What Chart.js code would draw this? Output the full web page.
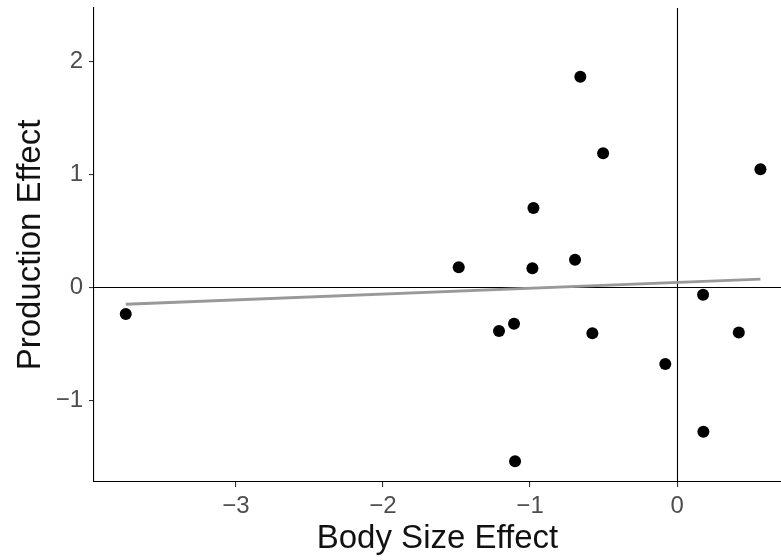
<!DOCTYPE html>
<html>
<head>
<meta charset="utf-8">
<script src="https://cdn.jsdelivr.net/npm/chart.js@4/dist/chart.umd.min.js"></script>
<style>
  html, body { margin: 0; padding: 0; background: #fff; }
  #wrap { width: 781px; height: 560px; }
</style>
</head>
<body>
<div id="wrap"><canvas id="chart" width="781" height="560"></canvas></div>
<script>
// points
const bodySize = [-3.75, -1.485, -1.211, -1.109, -1.102, -0.984, -0.977, -0.694, -0.658, -0.576, -0.503, -0.08, 0.177, 0.179, 0.42, 0.567];
const production = [-0.236, 0.177, -0.387, -0.322, -1.54, 0.168, 0.702, 0.244, 1.864, -0.407, 1.186, -0.679, -0.065, -1.278, -0.40, 1.044];

// fitted line endpoints
const fitX = [-3.75, 0.567];
const fitY = [-0.15, 0.073];

const xTicks = [-3, -2, -1, 0];
const yTicks = [-1, 0, 1, 2];

const FONT = "'Liberation Sans', Arial, Helvetica, sans-serif";
const TICK_COLOR = '#4d4d4d';

const fmt = v => v < 0 ? '\u2212' + Math.abs(v) : String(v);

// zero reference lines, drawn under the data
const zeroLines = {
    id: 'zeroLines',
    beforeDatasetsDraw(chart) {
        const { ctx, chartArea: a, scales: { x, y } } = chart;
        const px = Math.round(x.getPixelForValue(0)) + 0.5;
        const py = Math.round(y.getPixelForValue(0)) + 0.5;
        ctx.save();
        ctx.strokeStyle = '#000';
        ctx.lineWidth = 1.1;
        ctx.beginPath();
        ctx.moveTo(px, a.top);
        ctx.lineTo(px, a.bottom);
        ctx.moveTo(a.left, py);
        ctx.lineTo(a.right, py);
        ctx.stroke();
        ctx.restore();
    }
};

new Chart(document.getElementById('chart'), {
    type: 'scatter',
    data: {
        datasets: [{
            type: 'line',
            data: fitX.map((x, i) => ({ x, y: fitY[i] })),
            borderColor: '#999999',
            borderWidth: 2.8,
            pointRadius: 0,
            fill: false,
            tension: 0,
            order: 2,
        }, {
            data: bodySize.map((x, i) => ({ x, y: production[i] })),
            backgroundColor: '#000',
            borderWidth: 0,
            pointRadius: 6,
            order: 1,
        }]
    },
    options: {
        responsive: false,
        animation: false,
        devicePixelRatio: 1,
        layout: { autoPadding: false, padding: { top: 8, right: 0, left: 0, bottom: 0 } },
        plugins: {
            legend: { display: false },
            tooltip: { enabled: false },
        },
        scales: {
            x: {
                type: 'linear',
                min: -3.966,
                max: 0.707,
                afterFit: s => { s.height = 78; s.paddingLeft = 0; s.paddingRight = 0; },
                afterBuildTicks: s => { s.ticks = xTicks.map(value => ({ value })); },
                border: { display: true, color: '#000', width: 1.1 },
                grid: { display: true, drawOnChartArea: false, drawTicks: true, tickLength: 5, color: '#333', lineWidth: 1.1 },
                ticks: {
                    color: TICK_COLOR,
                    padding: 5,
                    maxRotation: 0,
                    font: { family: FONT, size: 24 },
                    callback: fmt,
                },
                title: {
                    display: true,
                    text: 'Body Size Effect',
                    color: '#111',
                    font: { family: FONT, size: 33, lineHeight: 1 },
                    padding: { top: 0, bottom: 5 },
                },
            },
            y: {
                type: 'linear',
                min: -1.723,
                max: 2.472,
                afterFit: s => { s.width = 94; s.paddingTop = 0; s.paddingBottom = 0; },
                afterBuildTicks: s => { s.ticks = yTicks.map(value => ({ value })); },
                border: { display: true, color: '#000', width: 1.1 },
                grid: { display: true, drawOnChartArea: false, drawTicks: true, tickLength: 5, color: '#333', lineWidth: 1.1 },
                ticks: {
                    color: TICK_COLOR,
                    padding: 6,
                    font: { family: FONT, size: 24 },
                    callback: fmt,
                },
                title: {
                    display: true,
                    text: 'Production Effect',
                    color: '#111',
                    font: { family: FONT, size: 33, lineHeight: 1 },
                    padding: { top: 14, bottom: 0 },
                },
            }
        }
    },
    plugins: [zeroLines]
});
</script>
</body>
</html>
